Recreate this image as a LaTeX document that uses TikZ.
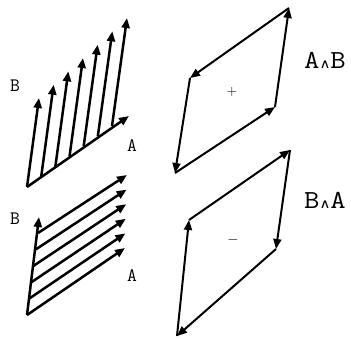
\documentclass[tikz,border=0pt]{standalone}
\usepackage{fontspec}
\newfontfamily\symfont{DejaVu Sans}
\usetikzlibrary{arrows.meta,calc}

\begin{document}
\begin{tikzpicture}[
  x=1pt, y=-1pt,
  vec/.style={-{Triangle[length=10pt,width=8pt]}, line width=2.5pt},
  side/.style={-{Triangle[length=10pt,width=8pt]}, line width=2pt},
  lbl/.style={font=\ttfamily\fontsize{19}{19}\selectfont, inner sep=0pt},
  prodlbl/.style={font=\ttfamily\fontsize{26}{26}\selectfont, inner sep=0pt,
    xscale=1.15, transform shape},
  sgn/.style={font=\fontsize{14}{14}\selectfont, inner sep=0pt},
]
  \useasboundingbox (0,0) rectangle (351,339);

  % ── Top left: B swept along A ───────────────────────────────────────────
  \coordinate (a0)  at (27,187);
  \coordinate (a1)  at (129,116);
  \coordinate (ab6) at (112,126);
  \coordinate (bt0) at (39,98);
  \coordinate (bt6) at (127,18);
  \foreach \k in {0,...,6}
    \draw[vec] ($(a0)!\k/6!(ab6)$) -- ($(bt0)!\k/6!(bt6)$);
  \draw[vec] (a0) -- (a1);
  \node[lbl] (labB1) at (15,86)  {B};
  \node[lbl] (labA1) at (132,146) {A};

  % ── Bottom left: A swept along B ────────────────────────────────────────
  \coordinate (b0)  at (27,315);
  \coordinate (b1)  at (39,217);
  \coordinate (ba5) at (38,233);
  \coordinate (at0) at (125,248);
  \coordinate (at5) at (127,175);
  \draw[vec] (b0) -- (b1);
  \foreach \k in {0,...,5}
    \draw[vec] ($(b0)!\k/5!(ba5)$) -- ($(at0)!\k/5!(at5)$);
  \node[lbl] (labB2) at (15,219)  {B};
  \node[lbl] (labA2) at (132,276) {A};

  % ── Top right: A then B, positive area ──────────────────────────────────
  \coordinate (p1) at (175,173);
  \coordinate (p2) at (275,107);
  \coordinate (p3) at (289,8);
  \coordinate (p4) at (190,78);
  \foreach \s/\t in {p1/p2, p2/p3, p3/p4, p4/p1}
    \draw[side] (\s) -- (\t);
  \node[sgn] (plus) at (232,92) {+};
  \node[prodlbl] (AwB) at (325,60)
      {A{\symfont\fontsize{13}{13}\selectfont ∧}B};

  % ── Bottom right: B then A, negative area ───────────────────────────────
  \coordinate (q1) at (177,336);
  \coordinate (q2) at (189,220);
  \coordinate (q3) at (290,150);
  \coordinate (q4) at (276,249);
  \foreach \s/\t in {q1/q2, q2/q3, q3/q4, q4/q1}
    \draw[side] (\s) -- (\t);
  \node[sgn] (minus) at (233,240) {$-$};
  \node[prodlbl] (BwA) at (325,200)
      {B{\symfont\fontsize{13}{13}\selectfont ∧}A};

\end{tikzpicture}
\end{document}
